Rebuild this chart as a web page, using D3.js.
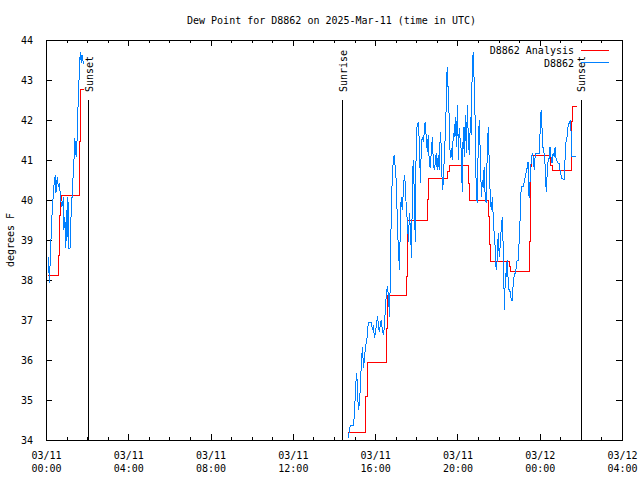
<!DOCTYPE html>
<html><head><meta charset="utf-8">
<script src="https://cdn.jsdelivr.net/npm/d3@7"></script>
<style>body{margin:0;background:#fff}svg{display:block}</style>
</head><body>
<svg id="c" width="640" height="480"></svg>
<script>
const title = "Dew Point for D8862 on 2025-Mar-11 (time in UTC)";
const yLabel = "degrees F";
const seriesNames = ["D8862 Analysis", "D8862"];
const seriesColors = ["#ff0000", "#0080ff"];
const yTicks = [34, 35, 36, 37, 38, 39, 40, 41, 42, 43, 44];
const xTickHours = [0, 4, 8, 12, 16, 20, 24, 28];
const xTickLabels = [["03/11","00:00"],["03/11","04:00"],["03/11","08:00"],["03/11","12:00"],["03/11","16:00"],["03/11","20:00"],["03/12","00:00"],["03/12","04:00"]];
const eventNames = ["Sunset", "Sunrise", "Sunset"];
const eventMinutes = [124, 865, 1561];
const eventTop = 42.5;

// minutes after 2025-03-11 00:00 UTC
const obsMinutes1 = [7,10,14,17,18,21,24,27,29,33,36,39,43,46,49,51,52,55,58,60,63,64,66,70,72,74,78,81,84,88,90,93,97,100,103,105,109,111];
const obsDew1 = [38.58,37.92,38.92,39.46,39.75,40.08,40.46,40.62,40.17,40.58,40.33,40.42,40.0,39.83,39.92,40.08,39.25,39.58,38.79,39.75,39.08,40.08,38.79,38.79,39.42,39.75,40.42,40.87,41.54,41.08,41.33,42.25,43.17,43.71,43.42,43.62,43.42,43.42];

const obsMinutes2 = [882,885,888,897,900,903,906,908,911,914,917,920,923,926,929,932,935,938,940,
949,952,955,958,961,964,967,970,972,975,978,981,984,987,990,993,996,999,1002,1005,1007,1010,1013,1016,1019,1022,1025,1028,1031,
1034,1036,1039,1042,1045,1048,1051,1054,1057,1060,1063,1066,1069,1071,1074,1077,1080,1083,1086,1089,
1092,1095,1098,1101,1104,1106,1109,1112,1115,1118,1121,1124,1127,1130,1133,1136,1138,1141,1144,1147,
1150,1153,1156,1159,1162,1165,1168,1170,1173,1176,1179,1182,1185,1188,
1191,1194,1197,1200,1203,1205,1208,1211,1214,1217,1220,1223,1226,1229,1232,1235,1238,1240,1243,1246,
1249,1252,1255,1258,1261,1264,1267,1270,1273,1275,1278,1281,1284,1287,1290,1293,1296,1299,1302,1305,
1307,1310,1313,1316,1319,1322,1325,1328,1331,1334,1337,1340,1342,1345,1348,
1351,1354,1357,1360,1363,1366,1369,1372,1374,1377,1380,1383,1386,1392,1395,1398,1401,1404,1406,
1409,1412,1415,1418,1421,1424,1427,1430,1438,1441,1444,1447,1450,1453,1456,1459,1462,1465,
1467,1470,1473,1476,1479,1482,1485,1488,1491,1494,1497,1499,1502,1505,1508,1511,1514,1517,1520,1523,
1526,1529,1531,1534,1537,1546];
const obsDew2 = [34.04,34.25,34.37,34.37,34.71,35.33,35.67,35.42,34.75,34.92,35.33,36.0,36.33,35.79,36.04,36.37,36.42,36.71,36.93,
36.93,36.75,36.88,36.54,36.71,36.88,37.1,36.83,36.71,36.88,37.0,36.75,36.63,36.83,37.33,37.67,37.85,37.58,37.08,38.38,39.75,40.58,41.0,41.13,40.75,40.42,39.33,38.75,38.25,
39.63,40.08,39.75,40.17,40.63,40.42,39.75,39.5,38.96,39.67,39.25,38.54,40.42,41.0,40.25,38.96,41.67,41.88,41.96,41.42,
40.42,41.42,41.58,41.46,41.79,41.96,41.58,41.21,41.63,40.88,40.79,41.25,41.58,40.88,40.75,41.0,41.17,40.75,41.13,40.75,
41.71,41.29,40.25,40.46,41.17,41.67,42.58,43.33,42.75,42.04,41.04,41.29,41.0,41.67,
41.58,42.08,41.33,42.38,41.0,41.79,41.5,41.25,40.21,41.83,41.08,42.13,41.17,42.38,41.46,41.13,42.08,41.63,43.17,43.71,
42.92,41.88,40.08,39.92,41.54,42.0,41.0,40.08,40.5,40.29,40.83,40.08,39.92,41.25,41.83,40.83,40.0,39.75,40.08,39.46,
39.17,38.83,38.25,38.5,39.17,38.58,38.88,39.33,39.58,38.67,37.25,38.17,38.08,38.5,38.0,
37.71,37.71,37.5,37.5,37.96,38.13,38.18,38.33,38.5,38.5,38.96,39.58,40.33,40.33,40.46,40.58,40.71,40.83,40.96,
40.04,40.5,40.96,41.17,41.08,40.75,41.13,41.17,41.17,41.67,42.25,41.75,41.25,41.17,40.83,40.21,40.67,41.04,
41.0,41.33,41.08,40.92,41.17,41.08,41.33,41.0,40.96,40.92,40.92,40.75,40.63,40.54,40.52,40.52,41.04,41.5,41.58,41.88,
41.92,42.0,41.79,41.08,41.08,41.08];

const anaMinutes1 = [7,36,39,42,45,97,100,111];
const anaDew1 = [38.12,38.62,39.62,40.0,40.12,41.46,42.77,42.77];
const anaMinutes2 = [882,933,938,994,997,1052,1055,1113,1116,1171,1178,1233,1235,1291,1294,1297,1351,1355,1411,1414,1417,1472,1477,1532,1534,1535,1550];
const anaDew2 = [34.19,35.08,35.94,36.79,37.61,38.08,39.5,40.02,40.54,40.71,40.875,40.42,39.99,39.6,38.88,38.475,38.33,38.21,38.96,40.83,41.125,40.875,40.75,41.25,41.96,42.35,42.35];

const FONT = "'DejaVu Sans Mono', 'Liberation Mono', monospace";
const svg = d3.select("#c").attr("font-family", FONT).attr("font-size", 10);
svg.append("rect").attr("width",640).attr("height",480).attr("fill","#fff");

const t0 = Date.UTC(2025, 2, 11);
const toDate = m => new Date(t0 + m * 60000);
const x = d3.scaleUtc().domain([toDate(0), toDate(28 * 60)]).range([46, 622]);
const y = d3.scaleLinear().domain([34, 44]).range([440, 40]);

const zip = (ts, vs) => ts.map((t, i) => ({t: toDate(t), v: vs[i]}));

// grid frame + axes
const majorDates = xTickHours.map(h => toDate(h * 60));
const minorDates = d3.range(0, 29).filter(h => h % 4 !== 0).map(h => toDate(h * 60));

function styleAxis(g) {
  g.select(".domain").remove();
  g.attr("font-family", FONT).attr("font-size", 10);
  g.selectAll(".tick line").attr("stroke", "#000").attr("shape-rendering", "crispEdges");
  g.selectAll(".tick text").attr("fill", "#000");
}

const gxb = svg.append("g").attr("transform", "translate(0,440)")
  .call(d3.axisBottom(x).tickValues(majorDates).tickSizeInner(-6).tickSizeOuter(0).tickFormat((d, i) => xTickLabels[i][0]));
styleAxis(gxb);
gxb.selectAll(".tick text").each(function(d, i) {
  const t = d3.select(this);
  t.text(null).attr("dy", null).attr("y", null);
  t.append("tspan").attr("x", 0).attr("y", 19).text(xTickLabels[i][0]);
  t.append("tspan").attr("x", 0).attr("y", 32).text(xTickLabels[i][1]);
});
const gxbm = svg.append("g").attr("transform", "translate(0,440)")
  .call(d3.axisBottom(x).tickValues(minorDates).tickSizeInner(-3).tickSizeOuter(0).tickFormat(() => ""));
styleAxis(gxbm);
const gxt = svg.append("g").attr("transform", "translate(0,40)")
  .call(d3.axisTop(x).tickValues(majorDates).tickSizeInner(-6).tickSizeOuter(0).tickFormat(() => ""));
styleAxis(gxt);
const gxtm = svg.append("g").attr("transform", "translate(0,40)")
  .call(d3.axisTop(x).tickValues(minorDates).tickSizeInner(-3).tickSizeOuter(0).tickFormat(() => ""));
styleAxis(gxtm);

const gyl = svg.append("g").attr("transform", "translate(46,0)")
  .call(d3.axisLeft(y).tickValues(yTicks).tickSizeInner(-6).tickSizeOuter(0).tickPadding(13).tickFormat(d3.format("d")));
styleAxis(gyl);
const gyr = svg.append("g").attr("transform", "translate(622,0)")
  .call(d3.axisRight(y).tickValues(yTicks).tickSizeInner(-6).tickSizeOuter(0).tickFormat(() => ""));
styleAxis(gyr);

svg.append("rect").attr("x", 46).attr("y", 40).attr("width", 576).attr("height", 400)
  .attr("fill", "none").attr("stroke", "#000").attr("shape-rendering", "crispEdges");

// event lines
eventNames.forEach((name, i) => {
  const ex = x(toDate(eventMinutes[i]));
  svg.append("line").attr("x1", ex).attr("x2", ex).attr("y1", y(34)).attr("y2", y(eventTop))
    .attr("stroke", "#000").attr("shape-rendering", "crispEdges");
  svg.append("text").attr("transform", `translate(${ex + 4},92) rotate(-90)`)
    .attr("text-anchor", "start").attr("fill", "#000").text(name);
});

// series
const line = d3.line().x(d => x(d.t)).y(d => y(d.v));
const stepLine = d3.line().x(d => x(d.t)).y(d => y(d.v)).curve(d3.curveStepAfter);

[zip(anaMinutes1, anaDew1), zip(anaMinutes2, anaDew2)].forEach(seg => {
  svg.append("path").datum(seg).attr("d", stepLine).attr("fill", "none")
    .attr("stroke", seriesColors[0]).attr("stroke-width", 1).attr("shape-rendering", "crispEdges");
});
[zip(obsMinutes1, obsDew1), zip(obsMinutes2, obsDew2)].forEach(seg => {
  svg.append("path").datum(seg).attr("d", line).attr("fill", "none")
    .attr("stroke", seriesColors[1]).attr("stroke-width", 1).attr("shape-rendering", "crispEdges");
});

// legend
seriesNames.forEach((name, i) => {
  const ly = 50 + i * 12.5;
  svg.append("text").attr("x", 574).attr("y", ly + 4).attr("text-anchor", "end").attr("fill", "#000").text(name);
  svg.append("line").attr("x1", 581).attr("x2", 609).attr("y1", ly).attr("y2", ly)
    .attr("stroke", seriesColors[i]).attr("shape-rendering", "crispEdges");
});

// title & y label
svg.append("text").attr("x", 331.5).attr("y", 23.5).attr("text-anchor", "middle").attr("fill", "#000").text(title);
svg.append("text").attr("transform", "translate(14,240) rotate(-90)").attr("text-anchor", "middle").attr("fill", "#000").text(yLabel);
</script>
</body></html>
